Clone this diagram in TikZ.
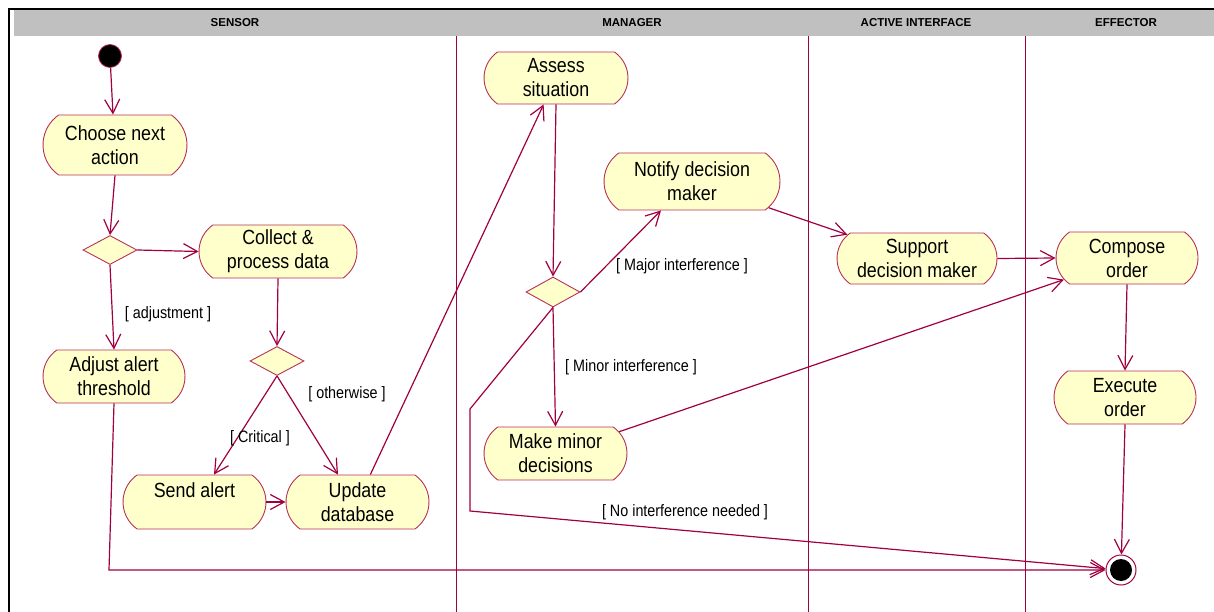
\documentclass[tikz,border=0pt]{standalone}
\usepackage{fontspec}
\setmainfont{Liberation Sans}
\newfontfamily\actfont{Liberation Sans}[FakeStretch=0.87]
\usetikzlibrary{shapes.misc,shapes.geometric,arrows.meta}
\definecolor{umlline}{HTML}{A00040}
\definecolor{umlborder}{HTML}{B8305A}
\definecolor{umlfill}{HTML}{FFFFCC}
\definecolor{headgray}{HTML}{C0C0C0}
\begin{document}
\begin{tikzpicture}[x=1pt,y=-1pt,
  activity/.style={rounded rectangle, rounded rectangle arc length=110,
    draw=umlborder, line width=0.9pt, fill=umlfill, inner sep=0pt,
    minimum width=143pt, minimum height=53pt, align=center,
    font=\actfont\fontsize{20.5}{24}\selectfont},
  decision/.style={diamond, draw=umlborder, line width=0.9pt, fill=umlfill,
    inner sep=0pt, minimum width=54pt, minimum height=29pt},
  guard/.style={font=\actfont\fontsize{16.5}{20}\selectfont, inner sep=0pt},
  lanehead/.style={font=\bfseries\fontsize{11.5}{13}\selectfont, inner sep=0pt},
  flow/.style={draw=umlline, line width=1.2pt,
    -{Straight Barb[length=14pt,width=15pt,line width=1.2pt]}},
  lane/.style={draw=umlline, line width=0.9pt}]
\useasboundingbox (0,0) rectangle (1214,612);

% swimlane frame and header band
\fill[headgray] (14,10) rectangle (1214,36.5);
\draw[black, line width=2pt] (9,612) -- (9,9) -- (1214,9);
\node[lanehead] (hsensor) at (235,23) {SENSOR};
\node[lanehead] (hmanager) at (632,23) {MANAGER};
\node[lanehead] (hactive) at (916,23) {ACTIVE INTERFACE};
\node[lanehead] (heffector) at (1126,23) {EFFECTOR};
\draw[lane] (456,36.5) -- (456,612);
\draw[lane] (808,36.5) -- (808,612);
\draw[lane] (1025,36.5) -- (1025,612);

% initial and final states
\node[circle, fill=black, draw=umlborder, line width=0.8pt, minimum size=23pt, inner sep=0pt] (start) at (110,56) {};
\node[circle, draw=umlline, line width=1pt, fill=white, minimum size=30pt, inner sep=0pt,
  path picture={\fill[black] (path picture bounding box.center) circle (11pt);}] (fin) at (1121,570) {};

% SENSOR lane
\node[activity, minimum width=144pt, minimum height=60pt] (choose) at (115,145) {Choose next\\action};
\node[decision] (d1) at (110,250) {};
\node[activity, minimum width=158pt] (collect) at (278,251.5) {Collect \&\\process data};
\node[activity, minimum width=142pt] (adjust) at (114,376.5) {Adjust alert\\threshold};
\node[decision] (d2) at (277,361) {};
\node[activity, minimum width=143pt, minimum height=54pt] (send) at (194.5,502) {Send alert\\\mbox{}};
\node[activity, minimum width=143pt, minimum height=54pt] (update) at (357.5,502) {Update\\database};

% MANAGER lane
\node[activity, minimum width=144pt, minimum height=52pt] (assess) at (556,78) {Assess\\situation};
\node[activity, minimum width=176pt, minimum height=57pt] (notify) at (692,181.5) {Notify decision\\maker};
\node[decision, minimum height=30pt] (d3) at (553,292) {};
\node[activity, minimum width=143pt] (minor) at (555.5,453.5) {Make minor\\decisions};

% ACTIVE INTERFACE lane
\node[activity, minimum width=160pt, minimum height=51pt] (support) at (917,258.5) {Support\\decision maker};

% EFFECTOR lane
\node[activity, minimum width=142pt, minimum height=52pt] (compose) at (1127,258) {Compose\\order};
\node[activity, minimum width=142pt] (execute) at (1125,397.5) {Execute\\order};

% bend points
\coordinate (nb1) at (470,409);
\coordinate (nb2) at (470,511);
\coordinate (ab1) at (109,570);

% transitions
\draw[flow] (start) -- ([xshift=-2pt]choose.north);
\draw[flow] (choose.south) -- (d1.north);
\draw[flow] (d1.east) -- (collect.west);
\draw[flow] (d1.south) -- (adjust.north);
\draw[flow] (collect.south) -- (d2.north);
\draw[flow] (d2.south) -- ([xshift=19.5pt]send.north);
\draw[flow] (d2.south) -- ([xshift=-19.5pt]update.north);
\draw[flow] (send.east) -- (update.west);
\draw[flow] (update) -- (assess);
\draw[flow] (assess.south) -- (d3.north);
\draw[flow] (d3.east) -- ([xshift=-31pt]notify.south);
\draw[flow] (d3.south) -- (minor.north);
\draw[flow] (d3.south) -- (nb1) -- (nb2) -- (fin);
\draw[flow] (notify) -- (support);
\draw[flow] (support.east) -- (compose.west);
\draw[flow] (minor) -- (compose);
\draw[flow] (compose.south) -- (execute.north);
\draw[flow] (execute.south) -- (fin);
\draw[flow] (adjust.south) -- (ab1) -- (fin);

% guard conditions
\node[guard] (gadjust) at (168,314) {[ adjustment ]};
\node[guard] (gother) at (347,394) {[ otherwise ]};
\node[guard] (gcrit) at (260,438) {[ Critical ]};
\node[guard] (gmajor) at (682,266) {[ Major interference ]};
\node[guard] (gminor) at (631,367) {[ Minor interference ]};
\node[guard] (gnone) at (685,512) {[ No interference needed ]};
\end{tikzpicture}
\end{document}
